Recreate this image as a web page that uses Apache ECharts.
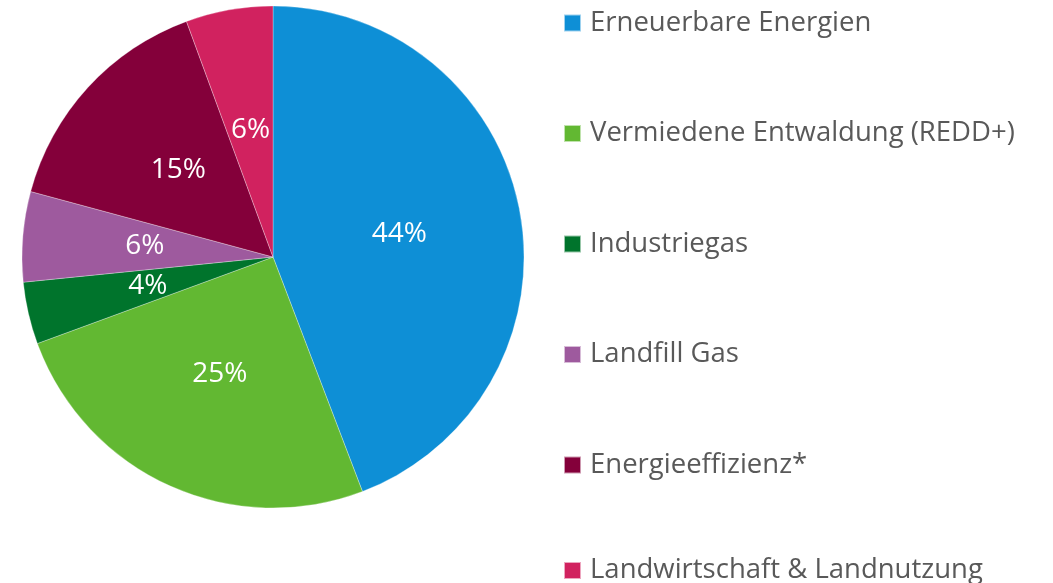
<!DOCTYPE html>
<html>
<head>
<meta charset="utf-8">
<script src="https://cdn.jsdelivr.net/npm/echarts@6/dist/echarts.min.js"></script>
<style>html,body{margin:0;padding:0;background:#fff;}#c{width:1053px;height:583px;}</style>
</head>
<body>
<div id="c"></div>
<script>
const categories = ["Erneuerbare Energien", "Vermiedene Entwaldung (REDD+)", "Industriegas", "Landfill Gas", "Energieeffizienz*", "Landwirtschaft & Landnutzung"];
const values = [44.2, 25.2, 4.0, 5.8, 15.2, 5.6];
const colors = ["#0e8fd6", "#62b832", "#00742c", "#9e5a9e", "#84003a", "#d1225f"];

const legendBase = {
  orient: 'vertical',
  left: 563,
  padding: 0,
  itemWidth: 17,
  itemHeight: 17,
  itemGap: 82.5,
  icon: 'rect',
  textStyle: {fontFamily: 'Open Sans', fontSize: 27.5, color: '#595959', padding: [0,0,0,4]}
};

const chart = echarts.init(document.getElementById('c'), null, {renderer: 'canvas'});
chart.setOption({
  animation: false,
  color: colors,
  legend: [
    Object.assign({}, legendBase, {top: 9, data: categories.slice(0, 5)}),
    Object.assign({}, legendBase, {top: 556.5, data: categories.slice(5)})
  ],
  series: [{
    type: 'pie',
    center: [273, 257],
    radius: [0, 251],
    startAngle: 90,
    clockwise: true,
    avoidLabelOverlap: false,
    itemStyle: {borderColor: 'rgba(255,255,255,0.6)', borderWidth: 0.5},
    label: {
      show: true,
      position: 'inside',
      formatter: p => Math.round(p.value) + '%',
      color: '#fff',
      fontFamily: 'Open Sans',
      fontSize: 28
    },
    labelLine: {show: false},
    emphasis: {disabled: true},
    data: categories.map((n, i) => ({name: n, value: values[i]}))
  }]
});
</script>
</body>
</html>
